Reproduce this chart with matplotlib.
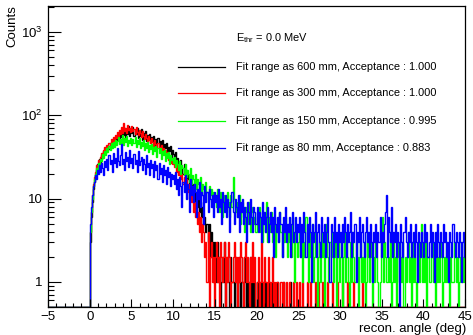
import numpy as np
import matplotlib
matplotlib.use("Agg")
import matplotlib.pyplot as plt
from matplotlib.lines import Line2D

plt.rcParams['font.family'] = ['Liberation Sans', 'DejaVu Sans']
plt.rcParams['mathtext.fontset'] = 'custom'
plt.rcParams['mathtext.rm'] = 'Liberation Sans'
plt.rcParams['mathtext.it'] = 'Liberation Sans:italic'

# ---------------- data ----------------
bin_width = 0.125
x_start, x_stop = -5.0, 45.0
n_bins_data = 360          # bins from 0 to 45 deg
n_empty_before_zero = 40   # bins from -5 to 0 deg are empty

fit_ranges = ["600 mm", "300 mm", "150 mm", "80 mm"]
acceptance = [1.000, 1.000, 0.995, 0.883]
colors = ["#000000", "#ff0000", "#00ff00", "#0000ff"]

counts_600 = (
    [3, 6, 9, 13, 16, 19, 22, 26, 24, 30, 27, 33, 31, 37, 34, 40, 36, 43, 39, 46,
     42, 50, 44, 53, 47, 56, 50, 59, 52, 62, 55, 65, 58, 70, 54, 66, 60, 75, 57, 68]
    + [62, 72, 56, 66, 59, 70, 53, 64, 57, 68, 51, 61, 55, 64, 49, 58, 52, 60, 46, 55,
       49, 57, 43, 52, 46, 54, 40, 49, 43, 50, 37, 45, 40, 47, 34, 42, 37, 43, 31, 38]
    + [34, 28, 36, 25, 31, 27, 22, 29, 24, 20, 26, 18, 22, 17, 19, 14, 17, 12, 15, 11,
       13, 9, 12, 8, 10, 7, 9, 6, 8, 5, 6, 4, 5, 3, 5, 2, 4, 3, 1, 3]
    + [2, 1, 3, 1, 2, 0, 1, 2, 1, 3, 0, 1, 2, 1, 0, 2, 1, 1, 0, 2,
       1, 0, 1, 2, 0, 1, 1, 0, 2, 1, 0, 1, 0, 1, 2, 0, 1, 0, 1, 0]
    + [1, 0, 0, 1, 0, 1, 0, 0, 1, 0, 0, 0, 1, 0, 0, 1, 0, 0, 0, 0,
       1, 0, 0, 0, 0, 1, 0, 0, 0, 0, 0, 0, 1, 0, 0, 0, 0, 0, 0, 0]
)
counts_300 = (
    [4, 7, 11, 15, 18, 21, 25, 23, 29, 26, 32, 35, 31, 38, 42, 36, 44, 40, 47, 43,
     52, 46, 55, 49, 58, 53, 63, 56, 67, 59, 72, 62, 80, 64, 70, 61, 76, 66, 71, 63]
    + [74, 65, 69, 60, 72, 63, 58, 67, 61, 55, 64, 57, 52, 60, 54, 49, 57, 51, 46, 53,
       48, 43, 50, 45, 40, 47, 42, 38, 44, 36, 41, 34, 38, 32, 36, 29, 33, 27, 31, 26]
    + [29, 24, 27, 21, 25, 19, 23, 17, 20, 15, 18, 14, 17, 12, 15, 10, 13, 9, 11, 7,
       9, 6, 8, 5, 7, 4, 6, 3, 5, 4, 2, 3, 1, 4, 0, 2, 3, 1, 2, 0]
    + [2, 3, 1, 2, 0, 3, 2, 1, 2, 3, 0, 2, 1, 3, 2, 0, 1, 2, 3, 1,
       2, 0, 2, 1, 3, 2, 1, 0, 2, 3, 1, 2, 1, 0, 2, 1, 3, 1, 2, 0]
    + [1, 2, 0, 1, 3, 1, 0, 2, 1, 1, 0, 2, 1, 0, 1, 2, 0, 1, 0, 1,
       1, 0, 0, 1, 0, 1, 0, 0, 1, 0, 0, 1, 0, 0, 0, 1, 0, 0, 1, 0]
    + [0, 1, 0, 0, 1, 0, 0, 0, 1, 0, 0, 1, 0, 0, 0, 0, 1, 0, 0, 1,
       0, 0, 0, 1, 0, 0, 0, 0, 1, 0, 0, 0, 1, 0, 0, 0, 0, 1, 0, 0]
    + [0, 0, 1, 0, 0, 0, 0, 1, 0, 0, 0, 0, 0, 1, 0, 0, 0, 0, 0, 0,
       0, 1, 0, 0, 0, 0, 0, 0, 0, 0, 0, 0, 0, 0, 0, 0, 0, 0, 0, 0]
)
counts_150 = (
    [4, 7, 10, 14, 17, 20, 23, 21, 27, 25, 30, 28, 34, 31, 37, 33, 40, 36, 43, 38,
     46, 40, 48, 42, 51, 44, 49, 55, 45, 52, 47, 58, 44, 53, 48, 56, 43, 51, 46, 54]
    + [44, 52, 47, 55, 42, 50, 45, 53, 40, 48, 43, 51, 38, 46, 41, 48, 36, 44, 39, 45,
       34, 42, 37, 43, 32, 40, 35, 41, 30, 37, 33, 38, 28, 35, 31, 36, 26, 33, 29, 31]
    + [27, 32, 24, 29, 26, 22, 28, 20, 25, 23, 19, 26, 18, 22, 20, 16, 23, 15, 19, 17,
       14, 20, 13, 17, 15, 12, 18, 11, 15, 13, 10, 16, 12, 9, 14, 11, 13, 8, 12, 10]
    + [11, 8, 13, 9, 7, 12, 10, 6, 11, 8, 10, 7, 12, 9, 6, 11, 8, 18, 10, 7,
       9, 6, 8, 11, 5, 7, 9, 6, 4, 8, 7, 5, 9, 6, 4, 7, 8, 5, 6, 4]
    + [7, 5, 8, 4, 6, 3, 7, 5, 4, 9, 3, 6, 5, 4, 7, 3, 5, 6, 2, 4,
       5, 3, 7, 4, 2, 5, 3, 6, 4, 2, 5, 3, 4, 2, 6, 3, 1, 4, 3, 2]
    + [3, 5, 2, 4, 1, 3, 2, 6, 3, 1, 4, 2, 3, 5, 1, 2, 4, 3, 0, 2,
       3, 1, 4, 2, 3, 0, 2, 5, 2, 1, 3, 2, 4, 1, 2, 3, 0, 2, 4, 1]
    + [2, 3, 0, 2, 4, 1, 3, 2, 1, 0, 3, 1, 4, 2, 1, 3, 2, 0, 2, 3,
       1, 2, 1, 3, 0, 1, 4, 2, 1, 2, 3, 0, 2, 1, 3, 2, 1, 0, 1, 3]
    + [6, 1, 3, 2, 1, 1, 2, 1, 4, 0, 1, 3, 1, 2, 0, 2, 3, 1, 2, 1,
       3, 0, 2, 1, 2, 4, 1, 2, 0, 3, 1, 2, 1, 0, 2, 3, 1, 2, 5, 1]
    + [2, 1, 3, 0, 2, 1, 1, 2, 3, 1, 2, 0, 4, 1, 2, 1, 3, 2, 0, 1,
       2, 1, 3, 1, 2, 0, 2, 1, 1, 3, 2, 1, 2, 0, 1, 2, 3, 1, 2, 1]
)
counts_80 = (
    [5, 8, 11, 14, 16, 19, 17, 22, 20, 25, 21, 27, 23, 19, 28, 24, 30, 22, 33, 26,
     29, 21, 35, 27, 31, 24, 40, 28, 25, 33, 45, 26, 30, 22, 36, 28, 32, 24, 38, 27]
    + [31, 23, 34, 26, 29, 21, 37, 25, 28, 32, 22, 30, 26, 20, 33, 24, 27, 19, 29, 23,
       26, 18, 28, 22, 25, 17, 27, 20, 23, 16, 25, 19, 22, 15, 24, 18, 21, 14, 20, 17]
    + [19, 15, 21, 13, 17, 11, 18, 14, 8, 16, 12, 19, 10, 15, 13, 7, 17, 11, 14, 9,
       15, 12, 6, 13, 10, 16, 8, 12, 11, 5, 14, 9, 12, 7, 13, 10, 8, 11, 6, 12]
    + [9, 11, 7, 13, 8, 10, 5, 12, 9, 7, 11, 6, 10, 8, 4, 9, 12, 7, 5, 10,
       8, 6, 11, 4, 9, 7, 10, 5, 8, 6, 3, 9, 7, 5, 10, 6, 4, 8, 7, 5]
    + [8, 4, 7, 6, 3, 9, 5, 7, 4, 6, 8, 3, 5, 7, 4, 6, 2, 8, 5, 4,
       6, 3, 7, 5, 2, 6, 4, 8, 3, 5, 4, 6, 2, 5, 7, 3, 4, 6, 3, 5]
    + [4, 6, 2, 5, 3, 7, 4, 2, 5, 3, 6, 4, 1, 5, 3, 4, 7, 2, 4, 5,
       3, 2, 6, 4, 3, 5, 2, 4, 6, 3, 1, 5, 4, 2, 6, 3, 4, 2, 5, 3]
    + [4, 2, 5, 3, 6, 4, 2, 5, 3, 4, 7, 2, 4, 3, 5, 1, 4, 3, 6, 2,
       4, 5, 3, 2, 4, 6, 3, 4, 2, 5, 3, 1, 4, 3, 5, 2, 4, 3, 6, 2]
    + [4, 3, 5, 7, 11, 2, 6, 4, 3, 8, 2, 4, 3, 5, 2, 4, 3, 0, 5, 3,
       2, 4, 6, 3, 2, 4, 3, 5, 2, 3, 4, 2, 5, 3, 1, 4, 3, 2, 4, 3]
    + [2, 5, 3, 4, 2, 3, 5, 2, 4, 3, 1, 4, 2, 5, 3, 2, 4, 3, 2, 5,
       3, 4, 2, 3, 1, 4, 3, 2, 5, 3, 2, 4, 3, 2, 4, 3, 1, 3, 4, 2]
)
series = [counts_600, counts_300, counts_150, counts_80]

y_min, y_max = 0.5, 2050
y_ticks = [1, 10, 100, 1000]
y_tick_labels = ["1", "10", r"$10^{2}$", r"$10^{3}$"]
x_ticks = list(range(-5, 46, 5))

# ---------------- figure ----------------
W, H = 473, 335
fig = plt.figure(figsize=(W / 100, H / 100), dpi=100)
ax = fig.add_axes([48 / W, (H - 307) / H, 417 / W, 301 / H])

edges = x_start + bin_width * np.arange(n_empty_before_zero + n_bins_data + 1)
for vals, col in zip(series, colors):
    full = [0] * n_empty_before_zero + (list(vals) + [0] * n_bins_data)[:n_bins_data]
    v = np.array(full, dtype=float)
    v = np.where(v > 0, v, y_min)  # empty bins drawn at the frame bottom, as ROOT does
    ax.stairs(v, edges, color=col, lw=1.0, baseline=None)

ax.set_yscale("log")
ax.set_xlim(x_start, x_stop)
ax.set_ylim(y_min, y_max)
ax.set_xticks(x_ticks)
ax.set_xticks(np.arange(-5, 46, 1), minor=True)
ax.set_yticks(y_ticks)
ax.set_yticklabels(y_tick_labels)
ax.yaxis.set_minor_locator(matplotlib.ticker.LogLocator(base=10, subs=np.arange(2, 10)))
ax.yaxis.set_minor_formatter(matplotlib.ticker.NullFormatter())
ax.tick_params(axis="both", which="both", direction="in", labelsize=9.5, width=0.8)
ax.tick_params(axis="x", which="major", length=6, pad=3)
ax.tick_params(axis="x", which="minor", length=3)
ax.tick_params(axis="y", which="major", length=9, pad=4)
ax.tick_params(axis="y", which="minor", length=4.5)
for s in ax.spines.values():
    s.set_linewidth(0.9)

fig.text(12 / W, 1 - 5 / H, "Counts", rotation=90, ha="center", va="top", fontsize=9.5)
fig.text(466 / W, 1 - 329 / H, "recon. angle (deg)", ha="right", va="center", fontsize=9.5)

# legend
fig.text(236 / W, 1 - 38 / H, r"$\mathrm{E}_{\mathrm{thr}}$ = 0.0 MeV", ha="left", va="center", fontsize=7.9)
rows_y = [67, 93, 121, 148]
for fr, acc, col, yy in zip(fit_ranges, acceptance, colors, rows_y):
    fig.lines.append(Line2D([178 / W, 225 / W], [1 - yy / H, 1 - yy / H], color=col, lw=0.9,
                            transform=fig.transFigure))
    fig.text(236 / W, 1 - yy / H, f"Fit range as {fr}, Acceptance : {acc:.3f}",
             ha="left", va="center", fontsize=7.9)

fig.savefig("out.png", dpi=100)
